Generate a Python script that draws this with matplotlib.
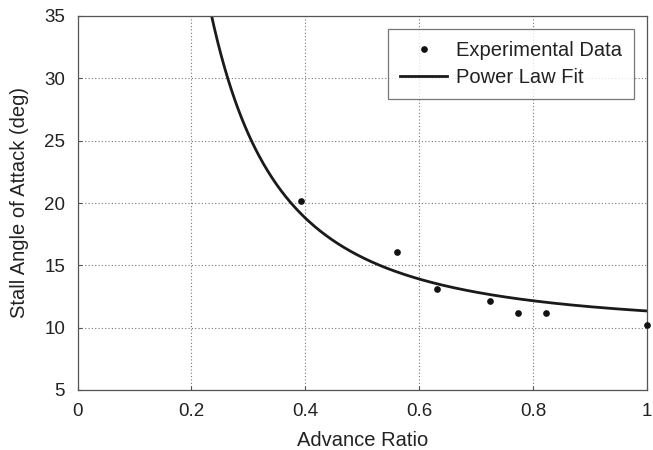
import numpy as np
import matplotlib
matplotlib.use("Agg")
from matplotlib import pyplot as plt

plt.rcParams['font.family'] = ['Liberation Sans', 'DejaVu Sans']

# Experimental data
advance_ratio = [0.392, 0.561, 0.631, 0.725, 0.774, 0.822, 1.0]
stall_angle = [20.15, 16.1, 13.1, 12.15, 11.2, 11.2, 10.2]

# Power law fit: alpha = a * mu^b + c
fit_a = 1.5
fit_b = -1.95
fit_c = 9.84

mu = np.linspace(0.2, 1.0, 400)
alpha_fit = fit_a * mu ** fit_b + fit_c

fig = plt.figure(figsize=(6.53, 4.5), dpi=100)
ax = fig.add_axes([77.5 / 653, 60 / 450, 569.5 / 653, 374 / 450])

ax.plot(advance_ratio, stall_angle, 'o', color='#111111', markersize=3.8,
        label='Experimental Data', clip_on=False, zorder=4)
ax.plot(mu, alpha_fit, '-', color='#1a1a1a', linewidth=2.0, label='Power Law Fit')

ax.set_xlim(0, 1)
ax.set_ylim(5, 35)
ax.set_xticks([0, 0.2, 0.4, 0.6, 0.8, 1.0])
ax.set_xticklabels(['0', '0.2', '0.4', '0.6', '0.8', '1'])
ax.set_yticks([5, 10, 15, 20, 25, 30, 35])

ax.grid(True, linestyle=(0, (1, 2)), color='#777777', linewidth=0.8)
for s in ax.spines.values():
    s.set_color('#555555')
    s.set_linewidth(0.9)
ax.tick_params(direction='in', length=3, color='#555555', labelsize=13.5,
               labelcolor='#222222', pad=9)

ax.set_xlabel('Advance Ratio', fontsize=14.5, color='#222222', labelpad=8)
ax.set_ylabel('Stall Angle of Attack (deg)', fontsize=14.5, color='#222222', labelpad=11)

leg = ax.legend(loc='upper right', fontsize=14.5, frameon=True, fancybox=False,
                edgecolor='#555555', borderaxespad=0.65, handlelength=2.3,
                handletextpad=0.45, borderpad=0.6, labelspacing=0.4)
leg.get_frame().set_linewidth(0.9)
for t in leg.get_texts():
    t.set_color('#222222')

fig.savefig('out.png', dpi=100)
